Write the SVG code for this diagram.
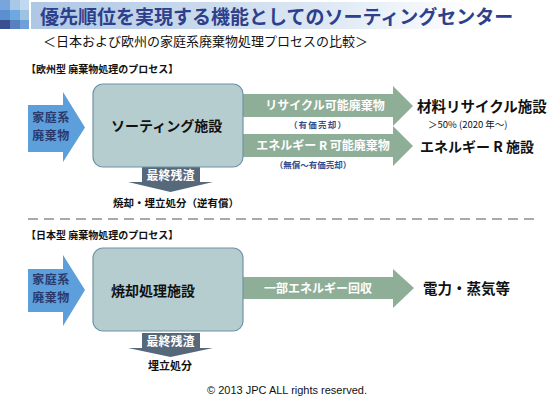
<svg xmlns="http://www.w3.org/2000/svg" width="560" height="400" viewBox="0 0 560 400">
<defs>
<linearGradient id="band" x1="0" y1="0" x2="1" y2="0">
<stop offset="0" stop-color="#aec7e4"/>
<stop offset="0.55" stop-color="#dce7f3"/>
<stop offset="0.85" stop-color="#ffffff"/>
</linearGradient>
<style>
text{font-family:"Noto Sans CJK JP","Liberation Sans",sans-serif;}
.b{font-weight:bold;}
.box{fill:#b6cdd0;stroke:#6f93a6;stroke-width:1.2;}
.blue{fill:#5c9fdb;}
.green{fill:#8fae98;}
.gray{fill:#56697b;}
.w{fill:#ffffff;}
.navy{fill:#2b3a6b;}
.note{fill:#2f4d8f;}
.k{fill:#111111;}
</style>
</defs>
<rect width="560" height="400" fill="#ffffff"/>
<g id="logo">
<rect x="0" y="0" width="10" height="10" fill="#7aa5dc"/>
<rect x="10" y="0" width="10" height="10" fill="#a8c8e8"/>
<rect x="20" y="0" width="9" height="10" fill="#c0d8f0"/>
<rect x="0" y="10" width="10" height="10" fill="#5a8fd0"/>
<rect x="10" y="10" width="10" height="10" fill="#6ea8e0"/>
<rect x="20" y="10" width="9" height="10" fill="#9cc4e0"/>
<rect x="0" y="20" width="10" height="9" fill="#3a4f8f"/>
<rect x="10" y="20" width="10" height="9" fill="#5a80c0"/>
<rect x="20" y="20" width="9" height="9" fill="#6fa0dc"/>
</g>
<g id="title">
<rect x="31" y="2" width="520" height="27" fill="url(#band)"/>
<text x="40" y="24" font-size="19" class="b" fill="#2e3f8c">優先順位を実現する機能としてのソーティングセンター</text>
<text x="43" y="46" font-size="13" class="k">＜日本および欧州の家庭系廃棄物処理プロセスの比較＞</text>
</g>
<g id="connectors">
<polygon class="green" points="243,94 393,94 393,86 413,106 393,126 393,117 243,117"/>
<polygon class="green" points="243,134 393,134 393,126 413,146 393,166 393,157 243,157"/>
<polygon class="gray" points="142,167 200,167 200,182 213,182 170.5,192 128,182 142,182"/>
<polygon class="green" points="243,277 393,277 393,269 414,288 393,308 393,299 243,299"/>
<polygon class="gray" points="142,333 200,333 200,348 213,348 170.5,357 128,348 142,348"/>
</g>
<g id="eu-label"><text x="26" y="73" font-size="10" class="b k">【欧州型 廃棄物処理のプロセス】</text></g>
<g id="eu-input">
<polygon class="blue" points="28,105 63,105 63,92 85,127.5 63,162 63,152 28,152"/>
<text x="51" y="122" font-size="12" letter-spacing="0.5" text-anchor="middle" class="b navy">家庭系</text>
<text x="51" y="140" font-size="12" letter-spacing="0.5" text-anchor="middle" class="b navy">廃棄物</text>
</g>
<g id="sorting">
<rect class="box" x="93" y="84" width="150" height="83" rx="10"/>
<text x="111" y="131" font-size="14" class="b k">ソーティング施設</text>
</g>
<g id="eu-labels">
<text x="325" y="110" font-size="12" text-anchor="middle" class="b w">リサイクル可能廃棄物</text>
<text x="318" y="128" font-size="8.5" letter-spacing="1.2" text-anchor="middle" class="b note">（有価売却）</text>
<text x="323" y="150" font-size="12" text-anchor="middle" class="b w">エネルギー R 可能廃棄物</text>
<text x="313" y="168" font-size="8.5" text-anchor="middle" class="b note">（無償〜有価売却）</text>
<text x="170.5" y="180" font-size="12" text-anchor="middle" class="b w">最終残渣</text>
<text x="176" y="207" font-size="10.5" text-anchor="middle" class="b k">焼却・埋立処分（逆有償）</text>
</g>
<g id="recycle">
<text x="417" y="112" font-size="14.5" class="b k">材料リサイクル施設</text>
<text x="428" y="127.5" font-size="9.5" class="k">＞50% (2020 年〜)</text>
</g>
<g id="energy"><text x="420" y="152" font-size="14" class="b k">エネルギー R 施設</text></g>
<line x1="28" y1="219" x2="537" y2="219" stroke="#a9a9a9" stroke-width="2" stroke-dasharray="10,6"/>
<g id="jp-label"><text x="26" y="239" font-size="10" class="b k">【日本型 廃棄物処理のプロセス】</text></g>
<g id="jp-input">
<polygon class="blue" points="28,269 63,269 63,255 85,290 63,326 63,312 28,312"/>
<text x="51" y="284" font-size="12" letter-spacing="0.5" text-anchor="middle" class="b navy">家庭系</text>
<text x="51" y="302" font-size="12" letter-spacing="0.5" text-anchor="middle" class="b navy">廃棄物</text>
</g>
<g id="incineration">
<rect class="box" x="93" y="248" width="150" height="83" rx="10"/>
<text x="111" y="296" font-size="14" class="b k">焼却処理施設</text>
</g>
<g id="jp-labels">
<text x="318" y="293" font-size="12" text-anchor="middle" class="b w">一部エネルギー回収</text>
<text x="170.5" y="346" font-size="12" text-anchor="middle" class="b w">最終残渣</text>
<text x="170" y="370" font-size="11" text-anchor="middle" class="b k">埋立処分</text>
</g>
<g id="power"><text x="423" y="294" font-size="14.5" class="b k">電力・蒸気等</text></g>
<text x="207" y="394" font-size="11" style="font-family:'Liberation Sans',sans-serif" class="k">© 2013 JPC ALL rights reserved.</text>
</svg>
